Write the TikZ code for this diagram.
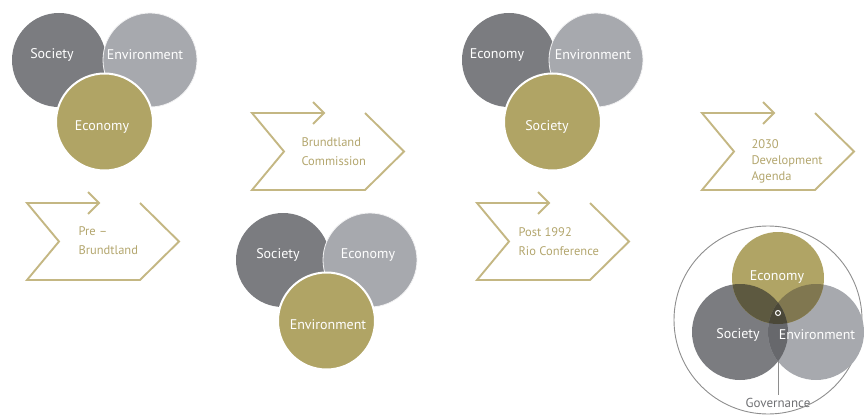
\documentclass[tikz,border=0pt]{standalone}
\usepackage{fontspec}
\setmainfont{PT Sans}
\begin{document}
\begin{tikzpicture}[x=1pt,y=-1pt,
  ball/.style={circle,inner sep=0pt,minimum size=#1},
  ball/.default=94pt,
  lbl/.style={text=white,font=\fontsize{14}{16}\selectfont},
  chev/.style={draw=chevline,line width=1.9pt,line join=miter},
  chevtext/.style={text=chevtxt,align=left,anchor=west,font=\fontsize{12.5}{19}\selectfont},
  chevron/.pic={
    \draw[chev] (72,0) -- (0,0) -- (32,38.5) -- (0,77) -- (113,77) -- (152,38.5) -- (113,0);
    \draw[chev] (61,-11) -- (72,0) -- (61,11);
  }]
\definecolor{darkgrey}{HTML}{7B7C80}
\definecolor{lightgrey}{HTML}{A7A9AE}
\definecolor{gold}{HTML}{B0A465}
\definecolor{chevline}{HTML}{C4B783}
\definecolor{chevtxt}{HTML}{B3A66E}
\definecolor{ringgrey}{HTML}{8E8E8E}
\definecolor{es}{HTML}{5D5940}
\definecolor{ee}{HTML}{807750}
\definecolor{se}{HTML}{67686C}
\definecolor{ees}{HTML}{4B4838}
\useasboundingbox (0,0) rectangle (867,417);

% --- Pre-Brundtland ---
\node[ball,fill=darkgrey] (soc1) at (59,60) {};
\node[ball,fill=lightgrey,draw=white!85!lightgrey,line width=0.8pt] (env1) at (150,60) {};
\node[ball=97pt,fill=gold,draw=white,line width=2pt] (eco1) at (104.5,122) {};
\node[lbl] (soc1t) at (52,55) {Society};
\node[lbl] (env1t) at (145,55) {Environment};
\node[lbl] (eco1t) at (102,127) {Economy};
\pic at (27,203) {chevron};
\node[chevtext] (t1) at (75,241) {Pre –\\Brundtland};

% --- Brundtland Commission ---
\pic at (252,113) {chevron};
\node[chevtext] (t2) at (298,152) {Brundtland\\Commission};
\node[ball,fill=darkgrey] (soc2) at (283,260) {};
\node[ball,fill=lightgrey,draw=white!85!lightgrey,line width=0.8pt] (eco2) at (370,260) {};
\node[ball=97pt,fill=gold,draw=white,line width=2pt] (env2) at (326.5,321) {};
\node[lbl] (soc2t) at (278,255) {Society};
\node[lbl] (eco2t) at (368,255) {Economy};
\node[lbl] (env2t) at (328,325) {Environment};

% --- Post 1992 Rio Conference ---
\node[ball,fill=darkgrey] (eco3) at (509,60) {};
\node[ball,fill=lightgrey,draw=white!85!lightgrey,line width=0.8pt] (env3) at (596,60) {};
\node[ball=97pt,fill=gold,draw=white,line width=2pt] (soc3) at (552.5,122) {};
\node[lbl] (eco3t) at (497,55) {Economy};
\node[lbl] (env3t) at (593,55) {Environment};
\node[lbl] (soc3t) at (547,127) {Society};
\pic at (477,203) {chevron};
\node[chevtext] (t3) at (515,242) {Post 1992\\Rio Conference};

% --- 2030 Development Agenda ---
\pic at (702,113) {chevron};
\node[chevtext,font=\fontsize{12.5}{16}\selectfont] (t4) at (748,161) {2030\\Development\\Agenda};

\node[circle,draw=ringgrey,line width=0.9pt,minimum size=188pt,inner sep=0pt] (ring) at (768,320) {};
\node[ball=96pt,fill=darkgrey] (soc4) at (740,332) {};
\node[ball=96pt,fill=lightgrey] (env4) at (816,332) {};
\node[ball=92pt,fill=gold] (eco4) at (778,278) {};
% overlaps of the three spheres
\begin{scope}
  \clip (778,278) circle (46);
  \fill[es] (740,332) circle (48);
\end{scope}
\begin{scope}
  \clip (778,278) circle (46);
  \fill[ee] (816,332) circle (48);
\end{scope}
\begin{scope}
  \clip (740,332) circle (48);
  \fill[se] (816,332) circle (48);
\end{scope}
\begin{scope}
  \clip (740,332) circle (48);
  \clip (816,332) circle (48);
  \fill[ees] (778,278) circle (46);
\end{scope}
\node[lbl] (eco4t) at (777,277) {Economy};
\node[lbl] (soc4t) at (738,335) {Society};
\node[lbl] (env4t) at (817,335) {Environment};
\node[circle,draw=white,fill=ees,line width=1pt,minimum size=5pt,inner sep=0pt] (hub) at (778,313) {};
\node[text=darkgrey!90!black,font=\fontsize{13}{15}\selectfont] (gov) at (778,403) {Governance};
\coordinate (lensbottom) at (778,361);
\draw[ringgrey,line width=0.8pt] (lensbottom) -- (gov.north);
\end{tikzpicture}
\end{document}
